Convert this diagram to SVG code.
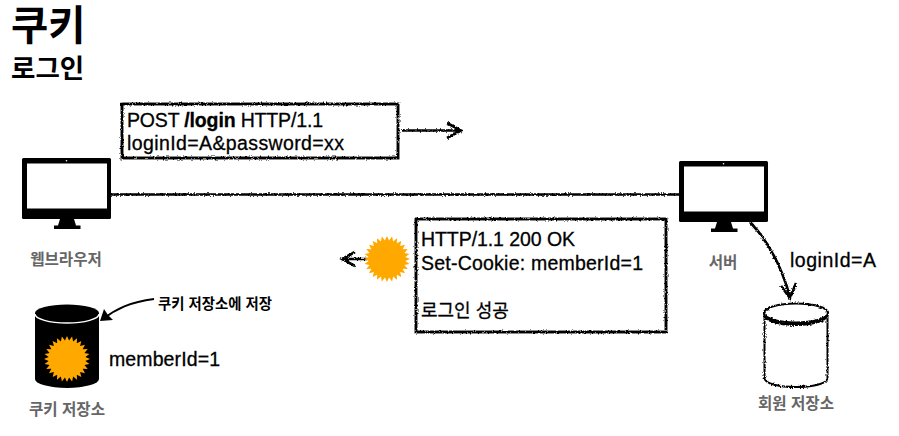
<svg xmlns="http://www.w3.org/2000/svg" width="899" height="436" viewBox="0 0 899 436">
<style>
text{font-family:"Liberation Sans","Noto Sans CJK KR",sans-serif;fill:#000}
.t{font-size:19.500px;stroke:#000;stroke-width:.3px}
.g{font-size:15.600px;font-weight:700;fill:#666}
.sk{fill:none;stroke:#000;stroke-width:2.600;filter:url(#rough)}
.box{fill:#fff;stroke:#000;stroke-width:2.900;filter:url(#rough)}
.star{fill:#ffa800}
</style>
<defs>
<filter id="rough" x="0" y="0" width="899" height="436" filterUnits="userSpaceOnUse" primitiveUnits="userSpaceOnUse" color-interpolation-filters="sRGB">
<feTurbulence type="fractalNoise" baseFrequency="0.6" numOctaves="2" seed="3" result="n"/>
<feDisplacementMap in="SourceGraphic" in2="n" scale="3" xChannelSelector="R" yChannelSelector="G"/>
</filter>
<g id="monitor">
<rect x="0" y="0" width="89" height="61" rx="1.500" fill="#000"/>
<rect x="5" y="5.500" width="80" height="45" fill="#fff"/>
<circle cx="44.500" cy="2.700" r=".8" fill="#fff"/>
<path d="M38 61H52L54 67.500H58.500V71H32V67.500H36Z" fill="#000"/>
</g>
<path id="sun" class="star" d="M23 0L18.380 2.070L22.420 5.120L17.460 6.110L20.720 9.980L15.660 9.840L17.980 14.340L13.080 13.080L14.340 17.980L9.840 15.660L9.980 20.720L6.110 17.460L5.120 22.420L2.070 18.380L0 23L-2.070 18.380L-5.120 22.420L-6.110 17.460L-9.980 20.720L-9.840 15.660L-14.340 17.980L-13.080 13.080L-17.980 14.340L-15.660 9.840L-20.720 9.980L-17.460 6.110L-22.420 5.120L-18.380 2.070L-23 0L-18.380 -2.070L-22.420 -5.120L-17.460 -6.110L-20.720 -9.980L-15.660 -9.840L-17.980 -14.340L-13.080 -13.080L-14.340 -17.980L-9.840 -15.660L-9.980 -20.720L-6.110 -17.460L-5.120 -22.420L-2.070 -18.380L0 -23L2.070 -18.380L5.120 -22.420L6.110 -17.460L9.980 -20.720L9.840 -15.660L14.340 -17.980L13.080 -13.080L17.980 -14.340L15.660 -9.840L20.720 -9.980L17.460 -6.110L22.420 -5.120L18.380 -2.070Z"/>
</defs>

<text x="11" y="40" font-size="40.500" font-weight="700">쿠키</text>
<text x="11" y="78" font-size="26.500" font-weight="700">로그인</text>

<g id="connectors">
<path class="sk" d="M111 194.500L679 194.500"/>
<path class="sk" d="M402 130.500H460M447 123L461 130.500L447 138"/>
<path class="sk" d="M367 259H343M355 252L342 259L355 266"/>
<path class="sk" d="M750 222C770 243 782 268 790 297M781 286L790 298L796 283"/>
<path fill="none" stroke="#000" stroke-width="1.800" d="M154 299C130 302 116 309 103 319"/>
<path fill="#000" d="M100 321L104 309L108 315L113 320Z"/>
</g>

<g id="node-browser">
<use href="#monitor" x="22" y="158"/>
<text class="g" x="66" y="265" text-anchor="middle">웹브라우저</text>
</g>

<g id="node-request">
<rect class="box" x="122" y="104" width="276" height="54"/>
<text class="t" x="127" y="127" textLength="196">POST <tspan font-weight="700">/login</tspan> HTTP/1.1</text>
<text class="t" x="127" y="150" textLength="217">loginId=A&amp;password=xx</text>
</g>

<g id="node-server">
<use href="#monitor" x="679" y="161"/>
<text class="g" x="723" y="268" text-anchor="middle">서버</text>
</g>

<g id="node-response">
<rect class="box" x="416" y="219" width="250" height="113"/>
<text class="t" x="421" y="246" textLength="154">HTTP/1.1 200 OK</text>
<text class="t" x="421" y="270" textLength="222">Set-Cookie: memberId=1</text>
<text class="t" x="421" y="317" style="font-size:18px">로그인 성공</text>
</g>

<g id="node-response-cookie">
<use href="#sun" x="387" y="259"/>
</g>

<g id="node-cookie-store">
<path fill="#000" d="M35 313A32 8.500 0 0 1 99 313V379A32 9 0 0 1 35 379Z"/>
<path fill="none" stroke="#fff" stroke-width="1.500" d="M35 314A32 9 0 0 0 99 314"/>
<use href="#sun" x="67" y="359"/>
<text class="t" x="109" y="366" textLength="111">memberId=1</text>
<text x="158" y="309" font-size="14.400" font-weight="700">쿠키 저장소에 저장</text>
<text class="g" x="67" y="415" text-anchor="middle">쿠키 저장소</text>
</g>

<g id="node-member-store">
<path class="box" d="M764.500 313V378C764.500 390 827.500 390 827.500 378V313" style="stroke-width:2"/>
<ellipse class="box" cx="796" cy="313" rx="32" ry="9.500" style="stroke-width:2.200"/>
<path class="sk" style="stroke-width:2.800" d="M765 315A31 9.500 0 0 0 827 315"/>
<text class="t" x="790" y="267" textLength="86">loginId=A</text>
<text class="g" x="796" y="409" text-anchor="middle">회원 저장소</text>
</g>
</svg>
